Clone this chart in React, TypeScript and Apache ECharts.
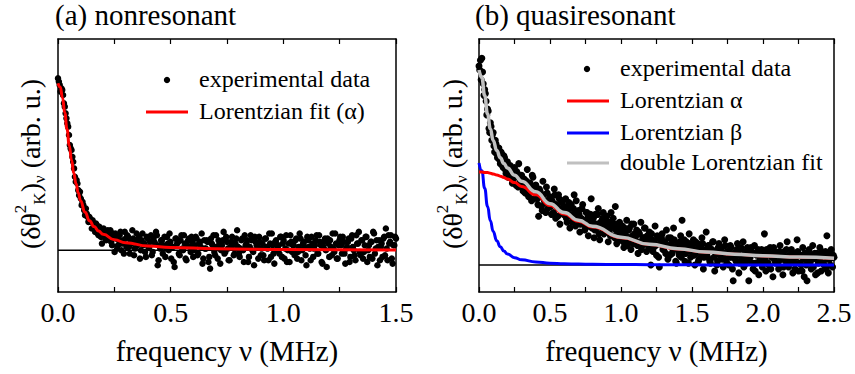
import React, { useEffect, useRef } from "react";
import * as echarts from "echarts";

// ---------- data ----------
// (a) nonresonant: frequency step (MHz) and measured noise spectrum (arb. u.)
const leftStep = 0.0075;
// samples at i * leftStep
const leftSignal = [
  1.03, 0.99, 0.97, 0.93, 0.86, 0.79, 0.74, 0.63, 0.6, 0.53,
  0.44, 0.42, 0.36, 0.35, 0.27, 0.27, 0.21, 0.22, 0.17, 0.19,
  0.13, 0.16, 0.11, 0.15, 0.09, 0.12, 0.04, 0.13, 0.07, 0.11,
  0.09,
  0.12, 0.03, 0.08, 0.1, 0.01, 0.06, 0.11, 0.04, -0.02, 0.07,
  0.09, 0.02, 0.05, 0.12, -0.03, 0.06, 0.03, 0.08, 0.0, 0.1,
  0.04, -0.04, 0.07, 0.02, 0.09, -0.01, 0.05, 0.11, -0.09, 0.03,
  0.06, -0.02, 0.08, 0.01, 0.04, 0.1, -0.05, 0.02, -0.1, 0.07,
  0.05, -0.03, 0.09, 0.0, 0.04, -0.06, 0.06, 0.02, 0.08, -0.04,
  0.03, 0.07, -0.02, 0.05, 0.1, -0.05, 0.01, 0.06, -0.07, -0.11,
  0.04, 0.09, -0.03, 0.02, 0.06, -0.08, 0.03, 0.11, -0.01, 0.05,
  -0.06, 0.02, 0.08, -0.03, 0.04, 0.12, -0.02, 0.01, 0.07, -0.07,
  0.03, 0.06, -0.04, 0.09, 0.0, -0.09, 0.05, 0.02, 0.08, -0.03,
  0.04, -0.06, 0.07, 0.01, 0.1, -0.04, 0.03, -0.08, 0.06, 0.02,
  -0.02, 0.08, 0.04, -0.05, 0.09, 0.0, -0.07, 0.05, 0.03, -0.03,
  0.07, -0.01, 0.1, -0.06, 0.04, 0.02, -0.09, 0.06, 0.01, 0.08,
  -0.04, 0.03, 0.09, -0.02, 0.05, -0.07, 0.02, 0.07, -0.1, 0.04,
  0.06, -0.03, 0.01, 0.1, -0.05, 0.03, 0.08, -0.02, 0.05, -0.08,
  0.02, 0.07, -0.04, 0.09, 0.0, -0.06, 0.04, 0.11, -0.03, 0.06,
  -0.01, 0.08, -0.07, 0.03, 0.05, -0.05, 0.1, 0.01, -0.09, 0.06,
  0.02, -0.04, 0.08, 0.13, -0.06, 0.04, 0.09, -0.08, 0.03, 0.07,
];
// samples at (i + 0.5) * leftStep
const leftSignalMid = [
  1.01, 0.95, 0.96, 0.88, 0.82, 0.76, 0.69, 0.61, 0.56, 0.49,
  0.41, 0.4, 0.33, 0.31, 0.29, 0.24, 0.25, 0.2, 0.2, 0.17,
  0.18, 0.14, 0.16, 0.1, 0.14, 0.08, 0.12, 0.1, 0.06, 0.12,
  0.08,
  0.05, 0.1, -0.01, 0.07, 0.03, 0.09, 0.0, 0.06, 0.11, 0.02,
  0.08, -0.02, 0.04, 0.07, 0.01, 0.1, 0.05, -0.05, 0.06, 0.03,
  -0.01, 0.08, 0.02, 0.05, -0.03, 0.07, 0.04, 0.09, -0.06, 0.01,
  0.06, 0.03, -0.04, 0.08, 0.0, 0.05, 0.02, -0.07, 0.07, 0.04,
  -0.02, 0.06, 0.01, 0.09, -0.05, 0.03, 0.07, -0.01, 0.05, 0.0,
  0.08, -0.03, 0.04, 0.02, -0.08, 0.06, 0.01, 0.05, -0.04, 0.07,
  0.03, -0.01, 0.09, -0.05, 0.04, 0.0, 0.06, -0.02, 0.08, 0.01,
  -0.06, 0.05, 0.03, -0.02, 0.07, 0.02, -0.04, 0.06, 0.0, 0.09,
  0.04, -0.07, 0.02, 0.06, -0.01, 0.08, 0.03, -0.05, 0.05, 0.01,
  -0.03, 0.07, 0.02, -0.06, 0.04, 0.1, -0.02, 0.05, 0.0, 0.03,
  0.08, -0.04, 0.06, 0.01, -0.07, 0.04, 0.09, -0.01, 0.03, 0.06,
  -0.05, 0.02, 0.07, 0.0, 0.05, -0.03, 0.08, 0.02, -0.06, 0.04,
  0.01, 0.06, -0.02, 0.09, 0.03, -0.08, 0.05, 0.0, 0.07, -0.04,
  0.02, 0.1, -0.01, 0.04, -0.05, 0.06, 0.03, 0.08, -0.02, 0.01,
  0.05, -0.07, 0.07, 0.02, -0.03, 0.09, 0.04, -0.01, 0.06, -0.05,
  0.03, 0.08, 0.0, -0.04, 0.05, 0.11, -0.02, 0.06, 0.02, -0.06,
  0.04, 0.07, -0.03, 0.01, 0.09, 0.05, -0.05, 0.03, 0.08,
];
const leftFitFreq = [0, 0.01, 0.02, 0.03, 0.04, 0.05, 0.06, 0.07, 0.08, 0.09, 0.1, 0.12, 0.14, 0.16, 0.18, 0.2, 0.25, 0.3, 0.4, 0.5, 0.7, 1.0, 1.5];
const leftFitAlpha = [1.0, 0.977, 0.913, 0.824, 0.725, 0.628, 0.54, 0.463, 0.398, 0.343, 0.297, 0.227, 0.177, 0.142, 0.115, 0.096, 0.063, 0.045, 0.026, 0.017, 0.009, 0.004, 0.002];

// (b) quasiresonant
const rightStep = 0.01;
// samples at i * rightStep
const rightSignal = [
  1.02, 1.05, 1.06, 0.93, 0.9, 0.84, 0.8, 0.7, 0.73, 0.64,
  0.68, 0.58, 0.62, 0.55, 0.6, 0.52, 0.57, 0.5, 0.55, 0.47,
  0.53, 0.46, 0.51, 0.48, 0.44, 0.5, 0.41, 0.47, 0.52, 0.43,
  0.46, 0.38, 0.44, 0.4, 0.49, 0.35, 0.42, 0.33, 0.45, 0.39,
  0.41, 0.34, 0.25, 0.38, 0.3, 0.43, 0.33, 0.27, 0.37, 0.31,
  0.35, 0.26, 0.32, 0.39, 0.24, 0.3, 0.36, 0.21, 0.29, 0.33,
  0.27, 0.34, 0.22, 0.29, 0.19, 0.31, 0.26, 0.36, 0.2, 0.25,
  0.28, 0.17, 0.24, 0.31, 0.21, 0.19, 0.27, 0.15, 0.23, 0.34,
  0.22, 0.14, 0.26, 0.19, 0.29, 0.13, 0.21, 0.24, 0.16, 0.2,
  0.25, 0.12, 0.18, 0.27, 0.15, 0.21, 0.3, 0.11, 0.17, 0.22,
  0.14, 0.2, 0.09, 0.17, 0.23, 0.12, 0.19, 0.08, 0.15, 0.21,
  0.13, 0.18, 0.06, 0.16, 0.22, 0.1, 0.14, 0.19, 0.07, 0.12,
  0.17, 0.0, 0.13, 0.09, 0.2, 0.05, 0.14, -0.01, 0.11, 0.16,
  0.08, 0.12, 0.18, 0.03, 0.1, 0.14, 0.06, 0.19, 0.09, 0.01,
  0.11, 0.05, 0.15, 0.23, 0.07, 0.02, 0.12, 0.09, 0.16, 0.04,
  0.08, 0.13, 0.0, 0.06, 0.11, 0.03, 0.09, 0.14, -0.02, 0.07,
  0.17, 0.04, 0.1, 0.01, 0.08, 0.12, -0.03, 0.06, 0.02, 0.11,
  0.05, 0.09, -0.01, 0.13, 0.03, 0.07, 0.0, 0.1, 0.04, -0.08,
  0.06, 0.02, 0.11, -0.04, 0.08, 0.03, 0.12, 0.0, 0.05, 0.09,
  -0.08, 0.04, 0.07, -0.02, 0.1, 0.01, 0.06, -0.05, 0.03, 0.08,
  0.02, 0.16, -0.03, 0.06, 0.0, 0.09, 0.04, -0.06, 0.07, 0.01,
  0.05, -0.02, 0.1, 0.03, -0.05, 0.07, 0.02, 0.12, -0.01, 0.04,
  0.08, -0.04, 0.01, 0.06, 0.13, -0.03, 0.05, 0.0, 0.09, -0.06,
  0.03, -0.08, 0.07, 0.02, -0.02, 0.1, 0.04, -0.05, 0.06, 0.01,
  0.09, -0.03, 0.05, 0.0, 0.07, 0.15, -0.04, 0.03, 0.08, -0.01,
  0.04,
];
// samples at (i + 0.5) * rightStep
const rightSignalMid = [
  1.0, 0.95, 0.99, 0.87, 0.88, 0.77, 0.79, 0.68, 0.71, 0.67,
  0.61, 0.64, 0.57, 0.59, 0.54, 0.58, 0.51, 0.56, 0.49, 0.52,
  0.45, 0.5, 0.47, 0.42, 0.49, 0.45, 0.48, 0.4, 0.46, 0.44,
  0.41, 0.44, 0.37, 0.43, 0.36, 0.41, 0.38, 0.46, 0.34, 0.4,
  0.37, 0.31, 0.39, 0.35, 0.28, 0.36, 0.32, 0.4, 0.29, 0.34,
  0.3, 0.33, 0.27, 0.36, 0.31, 0.25, 0.34, 0.28, 0.32, 0.26,
  0.3, 0.24, 0.28, 0.32, 0.25, 0.22, 0.29, 0.27, 0.33, 0.23,
  0.26, 0.21, 0.29, 0.23, 0.18, 0.27, 0.24, 0.2, 0.26, 0.19,
  0.24, 0.18, 0.21, 0.26, 0.16, 0.22, 0.19, 0.27, 0.17, 0.23,
  0.19, 0.22, 0.15, 0.2, 0.24, 0.14, 0.18, 0.21, 0.13, 0.19,
  0.17, 0.12, 0.19, 0.15, 0.1, 0.18, 0.14, 0.21, 0.11, 0.16,
  0.15, 0.1, 0.17, 0.12, 0.08, 0.14, 0.19, 0.11, 0.15, 0.09,
  0.13, 0.16, 0.07, 0.12, 0.1, 0.15, 0.04, 0.11, 0.14, 0.08,
  0.12, 0.06, 0.1, 0.14, 0.05, 0.11, 0.08, 0.13, 0.02, 0.1,
  0.07, 0.12, 0.04, 0.1, 0.13, 0.06, 0.09, 0.01, 0.11, 0.07,
  0.1, 0.05, 0.12, 0.08, 0.02, 0.09, 0.06, 0.11, 0.04, 0.08,
  0.06, 0.1, 0.02, 0.08, 0.12, 0.04, 0.07, 0.0, 0.09, 0.05,
  0.08, 0.03, 0.06, 0.1, 0.01, 0.07, 0.04, 0.09, -0.02, 0.06,
  0.03, 0.08, 0.05, 0.01, 0.09, 0.04, -0.01, 0.07, 0.02, 0.06,
  0.04, 0.09, 0.01, 0.06, -0.03, 0.05, 0.08, 0.02, 0.06, -0.01,
  0.05, 0.03, 0.08, 0.01, 0.06, -0.02, 0.04, 0.09, 0.02, 0.05,
  0.01, 0.07, 0.03, 0.06, -0.01, 0.04, 0.08, 0.0, 0.05, 0.02,
  0.06, 0.02, -0.02, 0.04, 0.07, 0.01, 0.05, -0.03, 0.03, 0.06,
  0.0, 0.04, 0.08, 0.02, 0.05, -0.01, 0.06, 0.03, -0.04, 0.04,
  0.02, 0.07, 0.01, 0.05, -0.02, 0.03, 0.06, 0.0, 0.04, 0.05,
];
const rightFitFreq = [0, 0.02, 0.04, 0.06, 0.08, 0.1, 0.125, 0.15, 0.175, 0.2, 0.25, 0.3, 0.4, 0.5, 0.6, 0.7, 0.8, 1.0, 1.2, 1.4, 1.6, 1.8, 2.0, 2.25, 2.5];
const rightAlpha = [0.477, 0.477, 0.475, 0.474, 0.471, 0.467, 0.462, 0.456, 0.449, 0.441, 0.423, 0.403, 0.36, 0.305, 0.262, 0.225, 0.195, 0.14, 0.105, 0.082, 0.066, 0.055, 0.047, 0.04, 0.034];
const rightBeta = [0.523, 0.484, 0.394, 0.301, 0.227, 0.172, 0.125, 0.094, 0.072, 0.057, 0.038, 0.027, 0.016, 0.01, 0.007, 0.005, 0.004, 0.003, 0.002, 0.0015, 0.001, 0.001, 0.0007, 0.0005, 0.0004];
const rightDouble = [1.0, 0.961, 0.869, 0.775, 0.698, 0.639, 0.587, 0.55, 0.521, 0.498, 0.461, 0.43, 0.376, 0.315, 0.269, 0.23, 0.199, 0.143, 0.107, 0.084, 0.067, 0.056, 0.048, 0.041, 0.035];

const leftTicks = { min: 0, max: 1.5, interval: 0.5 };
const rightTicks = { min: 0, max: 2.5, interval: 0.5 };
const titles = ["(a) nonresonant", "(b) quasiresonant"];
const xName = "frequency ν (MHz)";
const legendLeft = ["experimental data", "Lorentzian fit (α)"];
const legendRight = ["experimental data", "Lorentzian α", "Lorentzian β", "double Lorentzian fit"];

const SERIF = "Liberation Serif";

export default function App() {
  const ref = useRef<HTMLDivElement>(null);
  useEffect(() => {
    if (!ref.current) return;
    const chart = echarts.init(ref.current, undefined, { renderer: "svg" });

    const pair = (xs: number[], ys: number[]) => xs.map((x, i) => [x, ys[i]]);
    const sampled = (ys: number[], step: number, offset: number) =>
      ys.map((v, i) => [+((i + offset) * step).toFixed(5), v]);
    const leftData = sampled(leftSignal, leftStep, 0).concat(sampled(leftSignalMid, leftStep, 0.5));
    const rightData = sampled(rightSignal, rightStep, 0).concat(sampled(rightSignalMid, rightStep, 0.5));

    const frame = { show: true, lineStyle: { color: "#000", width: 1.5 } };
    const mkX = (grid: number, t: any, pos: "bottom" | "top") => ({
      type: "value",
      gridIndex: grid,
      position: pos,
      min: t.min,
      max: t.max,
      interval: t.interval,
      axisLine: { ...frame, onZero: false },
      axisTick: { show: true, inside: true, length: 5, lineStyle: { color: "#000", width: 1.2 } },
      minorTick: { show: true, splitNumber: 2, length: 5, lineStyle: { color: "#000", width: 1.2 } },
      splitLine: { show: false },
      axisLabel: {
        show: pos === "bottom",
        fontFamily: SERIF,
        fontSize: 28,
        color: "#000",
        margin: 6,
        formatter: (v: number) => v.toFixed(1),
      },
      name: pos === "bottom" ? xName : "",
      nameLocation: "middle",
      nameGap: 44,
      nameTextStyle: { fontFamily: SERIF, fontSize: 29, color: "#000" },
    });
    const mkY = (grid: number, min: number, max: number, pos: "left" | "right") => ({
      type: "value",
      gridIndex: grid,
      position: pos,
      min,
      max,
      axisLine: { ...frame, onZero: false },
      axisTick: { show: false },
      axisLabel: { show: false },
      splitLine: { show: false },
    });

    const zero = (xi: number, yi: number, xmax: number) => ({
      type: "line",
      xAxisIndex: xi,
      yAxisIndex: yi,
      data: [[0, 0], [xmax, 0]],
      symbol: "none",
      lineStyle: { color: "#000", width: 1.5 },
      z: 1,
      silent: true,
    });
    const scatter = (xi: number, yi: number, data: number[][], size: number) => ({
      type: "scatter",
      xAxisIndex: xi,
      yAxisIndex: yi,
      data,
      symbol: "circle",
      symbolSize: size,
      itemStyle: { color: "#000", opacity: 1 },
      z: 2,
    });
    const fit = (xi: number, yi: number, data: number[][], color: string, width: number, z: number) => ({
      type: "line",
      xAxisIndex: xi,
      yAxisIndex: yi,
      data,
      symbol: "none",
      smooth: 0.5,
      smoothMonotone: "x",
      lineStyle: { color, width },
      z,
    });

    const legendText = (x: number, y: number, text: string) => ({
      type: "text",
      x,
      y: y - 13,
      style: { text, fontFamily: SERIF, fontSize: 24, fill: "#000" },
    });
    const legendLine = (x1: number, x2: number, y: number, color: string) => ({
      type: "line",
      shape: { x1, y1: y, x2, y2: y },
      style: { stroke: color, lineWidth: 3 },
    });
    const legendDot = (cx: number, cy: number) => ({
      type: "circle",
      shape: { cx, cy, r: 3.2 },
      style: { fill: "#000" },
    });
    const yLabel = (x: number, y: number) => ({
      type: "text",
      x,
      y,
      rotation: Math.PI / 2,
      style: {
        text: "{a|(δθ}{sup|2}{sub|K}{a|)}{sub|ν}{a| (arb. u.)}",
        textAlign: "center",
        textVerticalAlign: "middle",
        fill: "#000",
        fontFamily: SERIF,
        fontSize: 28,
        rich: {
          a: { fontFamily: SERIF, fontSize: 28, lineHeight: 36, verticalAlign: "middle", fill: "#000" },
          sup: { fontFamily: SERIF, fontSize: 17, lineHeight: 36, verticalAlign: "top", fill: "#000" },
          sub: { fontFamily: SERIF, fontSize: 17, lineHeight: 36, verticalAlign: "bottom", fill: "#000" },
        },
      },
    });
    const title = (x: number, text: string) => ({
      type: "text",
      x,
      y: 0,
      style: { text, fontFamily: SERIF, fontSize: 29, fill: "#000" },
    });

    chart.setOption({
      animation: false,
      backgroundColor: "#fff",
      textStyle: { fontFamily: SERIF },
      grid: [
        { left: 58, top: 39, width: 338, height: 253 },
        { left: 479, top: 39, width: 355, height: 253 },
      ],
      xAxis: [
        mkX(0, leftTicks, "bottom"),
        mkX(0, leftTicks, "top"),
        mkX(1, rightTicks, "bottom"),
        mkX(1, rightTicks, "top"),
      ],
      yAxis: [
        mkY(0, -0.25, 1.265, "left"),
        mkY(0, -0.25, 1.265, "right"),
        mkY(1, -0.138, 1.159, "left"),
        mkY(1, -0.138, 1.159, "right"),
      ],
      series: [
        zero(0, 0, 1.5),
        scatter(0, 0, leftData, 6.5),
        fit(0, 0, pair(leftFitFreq, leftFitAlpha), "#ff0000", 3, 3),
        zero(2, 2, 2.5),
        scatter(2, 2, rightData, 7),
        fit(2, 2, pair(rightFitFreq, rightBeta), "#0000ff", 3, 3),
        fit(2, 2, pair(rightFitFreq, rightAlpha), "#ff0000", 3, 4),
        fit(2, 2, pair(rightFitFreq, rightDouble), "#c0c0c0", 3.5, 5),
      ],
      graphic: [
        title(55, titles[0]),
        title(475, titles[1]),
        yLabel(30, 164),
        yLabel(452, 164),
        legendDot(167, 80),
        legendText(199, 80, legendLeft[0]),
        legendLine(146, 188, 112, "#ff0000"),
        legendText(199, 112, legendLeft[1]),
        legendDot(587, 69),
        legendText(620, 69, legendRight[0]),
        legendLine(567, 609, 101, "#ff0000"),
        legendText(620, 101, legendRight[1]),
        legendLine(567, 609, 133, "#0000ff"),
        legendText(620, 133, legendRight[2]),
        legendLine(567, 609, 163, "#c0c0c0"),
        legendText(620, 163, legendRight[3]),
      ],
    });
    return () => chart.dispose();
  }, []);
  return <div ref={ref} style={{ width: 855, height: 374, position: "absolute", left: 0, top: 0 }} />;
}
